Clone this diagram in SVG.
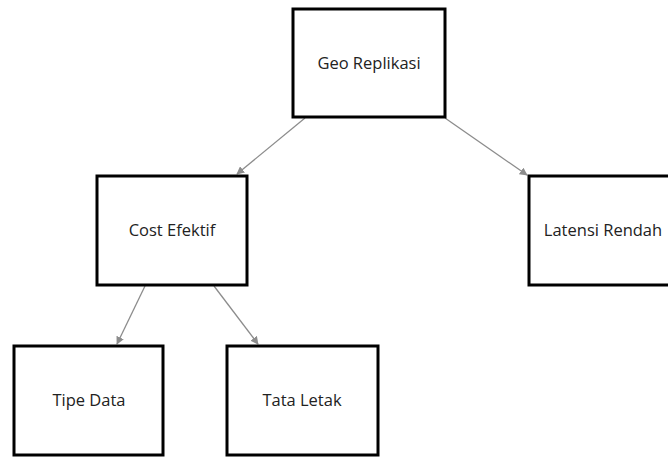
<svg xmlns="http://www.w3.org/2000/svg" width="668" height="457" viewBox="0 0 668 457">
<style>
.box{fill:#fff;stroke:#000;stroke-width:3}
.lbl{font-family:"Open Sans","Liberation Sans",sans-serif;font-size:16.5px;fill:#222;text-anchor:middle}
.edge{stroke:#8c8c8c;stroke-width:1.3;fill:none;marker-end:url(#ah)}
</style>
<defs>
<marker id="ah" viewBox="0 0 10 10" refX="9" refY="5" markerWidth="8" markerHeight="8" markerUnits="userSpaceOnUse" orient="auto">
<path d="M0,0 L10,5 L0,10 z" fill="#8c8c8c"/>
</marker>
</defs>
<rect width="668" height="457" fill="#fff"/>
<g id="edges">
<line class="edge" x1="305" y1="118" x2="237" y2="174"/>
<line class="edge" x1="445" y1="118" x2="527" y2="175"/>
<line class="edge" x1="145" y1="286" x2="117" y2="344"/>
<line class="edge" x1="214" y1="286" x2="258" y2="344"/>
</g>
<g id="geo">
<rect class="box" x="293" y="9" width="152" height="108"/>
<text class="lbl" x="369" y="69">Geo Replikasi</text>
</g>
<g id="cost">
<rect class="box" x="97" y="176" width="150" height="109"/>
<text class="lbl" x="172" y="236">Cost Efektif</text>
</g>
<g id="latensi">
<rect class="box" x="529" y="176" width="150" height="109"/>
<text class="lbl" x="603" y="236">Latensi Rendah</text>
</g>
<g id="tipe">
<rect class="box" x="14" y="346" width="149" height="109"/>
<text class="lbl" x="89" y="406">Tipe Data</text>
</g>
<g id="tata">
<rect class="box" x="227" y="346" width="151" height="109"/>
<text class="lbl" x="302" y="406">Tata Letak</text>
</g>
</svg>
